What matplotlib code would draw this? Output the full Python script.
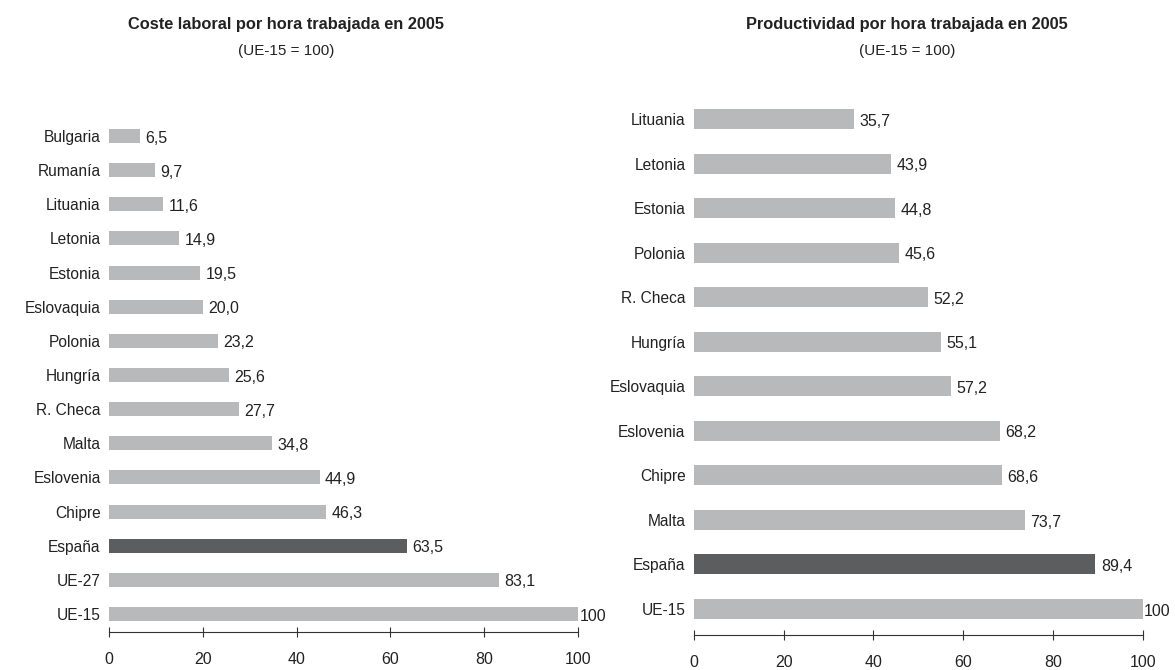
import matplotlib.pyplot as plt

plt.rcParams['font.family'] = ['Liberation Sans', 'DejaVu Sans']

# coste laboral por hora (UE-15 = 100), orden de abajo hacia arriba
coste_paises = ['UE-15', 'UE-27', 'España', 'Chipre', 'Eslovenia', 'Malta', 'R. Checa',
                'Hungría', 'Polonia', 'Eslovaquia', 'Estonia', 'Letonia', 'Lituania',
                'Rumanía', 'Bulgaria']
coste_valores = [100, 83.1, 63.5, 46.3, 44.9, 34.8, 27.7, 25.6, 23.2, 20.0, 19.5, 14.9,
                 11.6, 9.7, 6.5]

# productividad por hora (UE-15 = 100)
prod_paises = ['UE-15', 'España', 'Malta', 'Chipre', 'Eslovenia', 'Eslovaquia', 'Hungría',
               'R. Checa', 'Polonia', 'Estonia', 'Letonia', 'Lituania']
prod_valores = [100, 89.4, 73.7, 68.6, 68.2, 57.2, 55.1, 52.2, 45.6, 44.8, 43.9, 35.7]

ticks = [0, 20, 40, 60, 80, 100]

gris = '#b8b9bb'
oscuro = '#5c5d5f'
texto = '#222222'


def fmt(v):
    if v == 100:
        return '100'
    return ('%.1f' % v).replace('.', ',')


def panel(ax, paises, valores, altura, ylim):
    colores = [oscuro if p == 'España' else gris for p in paises]
    pos = range(len(paises))
    ax.barh(pos, valores, height=altura, color=colores)
    for y, v in zip(pos, valores):
        off = 1 if v == 100 else 4
        ax.annotate(fmt(v), (v, y), xytext=(off, -1.5), textcoords='offset points',
                    va='center', ha='left', fontsize=11.5, color=texto)
    ax.set_yticks(list(pos))
    ax.set_yticklabels(paises, fontsize=11.2, color=texto)
    ax.set_xticks(ticks)
    ax.set_xticklabels([str(t) for t in ticks], fontsize=11.5, color=texto)
    ax.set_xlim(0, 100)
    ax.set_ylim(*ylim)
    for s in ['top', 'right', 'left']:
        ax.spines[s].set_visible(False)
    ax.spines['bottom'].set_color('#333333')
    ax.spines['bottom'].set_linewidth(0.8)
    ax.tick_params(axis='y', length=0, pad=6)
    ax.tick_params(axis='x', direction='inout', length=7, width=0.8, color='#333333', pad=11)


fig = plt.figure(figsize=(11.75, 6.7), dpi=100)

ax1 = fig.add_axes([0.0928, 0.0567, 0.399, 0.7657])
panel(ax1, coste_paises, coste_valores, 0.41, (-0.53, 14.5))

ax2 = fig.add_axes([0.5906, 0.0522, 0.382, 0.803])
panel(ax2, prod_paises, prod_valores, 0.45, (-0.585, 11.5))

fig.text(286 / 1175, 1 - 25 / 670, 'Coste laboral por hora trabajada en 2005',
         ha='center', va='center', fontsize=11.8, fontweight='bold', color=texto)
fig.text(286 / 1175, 1 - 51 / 670, '(UE-15 = 100)',
         ha='center', va='center', fontsize=11, color=texto)
fig.text(907 / 1175, 1 - 25 / 670, 'Productividad por hora trabajada en 2005',
         ha='center', va='center', fontsize=11.8, fontweight='bold', color=texto)
fig.text(907 / 1175, 1 - 51 / 670, '(UE-15 = 100)',
         ha='center', va='center', fontsize=11, color=texto)

fig.savefig('out.png', dpi=100)
